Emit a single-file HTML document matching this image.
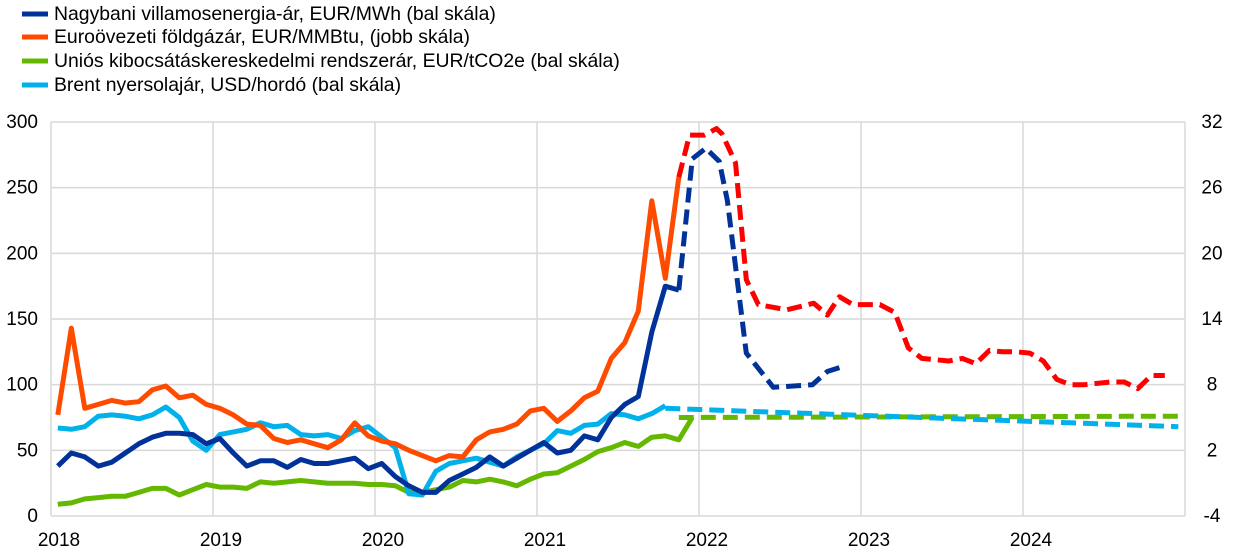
<!DOCTYPE html>
<html><head><meta charset="utf-8"><style>
html,body{margin:0;padding:0;background:#fff;}
svg{display:block;font-family:"Liberation Sans",Arial,sans-serif;}
</style></head><body>
<svg id="c" width="1240" height="558" viewBox="0 0 1240 558" xmlns="http://www.w3.org/2000/svg">
<g stroke="#d9d9d9" stroke-width="1.5" fill="none" id="grid"></g>
<g id="labels" font-size="19" fill="#000"></g>
<g id="series" fill="none" stroke-width="5" stroke-linejoin="round"></g>
<g font-size="19.4" fill="#000">
<line x1="22" y1="14" x2="48" y2="14" stroke="#003299" stroke-width="5"/>
<text x="54" y="20">Nagybani villamosenergia-ár, EUR/MWh (bal skála)</text>
<line x1="22" y1="37" x2="48" y2="37" stroke="#ff4b00" stroke-width="5"/>
<text x="54" y="43">Euroövezeti földgázár, EUR/MMBtu, (jobb skála)</text>
<line x1="22" y1="61" x2="48" y2="61" stroke="#65b800" stroke-width="5"/>
<text x="54" y="67">Uniós kibocsátáskereskedelmi rendszerár, EUR/tCO2e (bal skála)</text>
<line x1="22" y1="85" x2="48" y2="85" stroke="#00b1ea" stroke-width="5"/>
<text x="54" y="91">Brent nyersolajár, USD/hordó (bal skála)</text>
</g>
</svg>
<script>
var NS="http://www.w3.org/2000/svg";
function el(p,t,a,txt){var e=document.createElementNS(NS,t);for(var k in a)e.setAttribute(k,a[k]);if(txt!==undefined)e.textContent=txt;p.appendChild(e);return e;}
var L=51,R=1185,T=122,B=516;
function X(m){return L+13.5*(m+0.5);}
function Y(v){return B-v*(B-T)/300;}
var g=document.getElementById('grid'),lb=document.getElementById('labels'),s=document.getElementById('series');
for(var v=0;v<=300;v+=50){el(g,'line',{x1:L,x2:R,y1:Y(v),y2:Y(v)});el(lb,'text',{x:38,y:Y(v)+6,'text-anchor':'end'},v);}
for(var i=0;i<=6;i++){var x=L+162*i;el(g,'line',{x1:x,x2:x,y1:T,y2:B});el(lb,'text',{x:x+8,y:546,'text-anchor':'middle'},2018+i);}
el(g,'line',{x1:R,x2:R,y1:T,y2:B});
for(var r=-4;r<=32;r+=6){var y=T+(32-r)*(B-T)/36;el(lb,'text',{x:1212,y:y+6,'text-anchor':'middle'},r);}
function line(vals,start,color,dash){var p=[];for(var i=0;i<vals.length;i++){if(vals[i]==null)continue;p.push(X(start+i).toFixed(1)+','+Y(vals[i]).toFixed(1));}
var a={points:p.join(' '),stroke:color};if(dash)a['stroke-dasharray']=dash;el(s,'polyline',a);}
function lineXY(pts,color,dash){var p=pts.map(function(q){return X(q[0]).toFixed(1)+','+Y(q[1]).toFixed(1)});var a={points:p.join(' '),stroke:color};if(dash)a['stroke-dasharray']=dash;el(s,'polyline',a);}
var D="15 7";
line([9,10,13,14,15,15,18,21,21,16,20,24,22,22,21,26,25,26,27,26,25,25,25,24,24,23,18,18,20,22,27,26,28,26,23,28,32,33,38,43,49,52,56,53,60,61,58,75],0,'#65b800');
var gd=[];for(var m=46;m<=83;m++)gd.push([m,75+ (m-46)/37]);lineXY(gd,'#65b800',D);
line([67,66,68,76,77,76,74,77,83,75,57,50,62,64,66,71,68,69,62,61,62,59,65,68,60,52,17,16,34,40,42,44,41,38,45,50,55,65,63,69,70,78,77,74,78,84],0,'#00b1ea');
var bd=[];for(var m=45;m<=83;m++)bd.push([m,82-(m-45)*14/38]);lineXY(bd,'#00b1ea',D);
line([77,143,82,85,88,86,87,96,99,90,92,85,82,77,70,69,59,56,58,55,52,58,71,61,57,55,50,46,42,46,45,58,64,66,70,80,82,72,80,90,95,120,132,156,240,181,258],0,'#ff4b00');
lineXY([[46,258],[46.8,290],[47.9,290],[48.8,295],[49.2,291],[50.2,269],[51,180],[51.9,161],[54,157],[56,162],[57,153],[57.9,167],[58.9,161],[60.9,161],[62,155],[63,128],[64,120],[65,119],[66,118],[67,120],[68,116],[69,126],[70,125],[71,125],[72,124],[73,118],[74,104],[75,100],[76,100],[77,101],[78,102],[79,102],[80,97],[81,107],[82,107]],'#ff0000',D);
line([38,48,45,38,41,48,55,60,63,63,62,55,59,48,38,42,42,37,43,40,40,42,44,36,40,30,23,18,18,27,32,37,45,38,44,50,56,48,50,61,58,75,85,91,140,175,172],0,'#003299');
lineXY([[46,172],[47,272],[48,280],[49,270],[49.6,240],[51,124],[53,98],[55.9,100],[57,110],[58.2,114]],'#003299',D);
</script>
</body></html>
